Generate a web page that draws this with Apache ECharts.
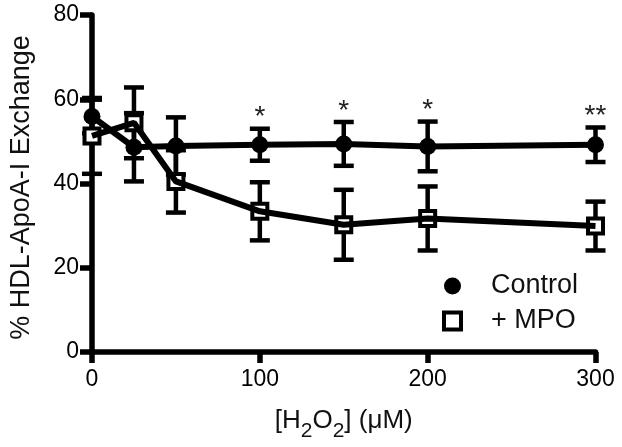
<!DOCTYPE html>
<html>
<head>
<meta charset="utf-8">
<script src="https://cdn.jsdelivr.net/npm/echarts@6/dist/echarts.min.js"></script>
<style>html,body{margin:0;padding:0;background:#fff}#c{width:622px;height:447px}</style>
</head>
<body>
<div id="c"></div>
<script>
const xValues = [0, 25, 50, 100, 150, 200, 300];
const controlMean = [55.9, 48.6, 48.9, 49.2, 49.4, 48.8, 49.2];
const controlSem = [4.0, 8.1, 6.8, 3.8, 5.2, 5.9, 4.1];
const mpoMean = [51.3, 54.4, 40.5, 33.4, 30.2, 31.7, 29.9];
const mpoSem = [9.0, 8.4, 7.4, 6.9, 8.3, 7.6, 5.8];
const sigMarks = ['', '', '', '*', '*', '*', '**'];
const seriesNames = ['Control', '+ MPO'];
const yTitle = '% HDL-ApoA-I Exchange';
const xTitle = '[H{sub|2}O{sub|2}] (\u03bcM)';

const FONT = 'Liberation Sans, Arial, Helvetica, sans-serif';
const INK = '#000';

function errData(mean, sem) {
  return xValues.map((x, i) => [x, mean[i] - sem[i], mean[i] + sem[i]]);
}
function errRender(params, api) {
  const x = api.value(0);
  const lo = api.coord([x, api.value(1)]);
  const hi = api.coord([x, api.value(2)]);
  const h = 10;
  const st = { stroke: INK, lineWidth: 4.5, fill: null };
  return {
    type: 'group',
    children: [
      { type: 'line', shape: { x1: lo[0], y1: lo[1], x2: hi[0], y2: hi[1] }, style: st },
      { type: 'line', shape: { x1: lo[0] - h, y1: lo[1], x2: lo[0] + h, y2: lo[1] }, style: st },
      { type: 'line', shape: { x1: hi[0] - h, y1: hi[1], x2: hi[0] + h, y2: hi[1] }, style: st }
    ]
  };
}

const chart = echarts.init(document.getElementById('c'), null, { renderer: 'canvas' });
chart.setOption({
  animation: false,
  backgroundColor: '#fff',
  textStyle: { fontFamily: FONT },
  grid: { left: 90, right: 26.5, top: 15, bottom: 95, containLabel: false },
  xAxis: {
    type: 'value', min: 0, max: 300, interval: 100,
    splitLine: { show: false },
    axisLine: { lineStyle: { color: INK, width: 5.5 } },
    axisTick: { length: 11, lineStyle: { color: INK, width: 5.5 } },
    axisLabel: { color: INK, fontSize: 23, fontFamily: FONT, margin: 16 },
    name: xTitle, nameLocation: 'middle', nameGap: 47,
    nameTextStyle: {
      color: '#111', fontSize: 26, fontFamily: FONT,
      rich: { sub: { fontSize: 21, verticalAlign: 'bottom', padding: [22, 0, 0, 0], fontFamily: FONT, color: '#111' } }
    }
  },
  yAxis: {
    type: 'value', min: 0, max: 80, interval: 20,
    splitLine: { show: false },
    axisLine: { lineStyle: { color: INK, width: 5.5 } },
    axisTick: { length: 12, lineStyle: { color: INK, width: 5.5 } },
    axisLabel: { color: INK, fontSize: 23, fontFamily: FONT, margin: 13 },
    name: yTitle, nameLocation: 'middle', nameGap: 57, nameRotate: 90,
    nameTextStyle: { color: '#111', fontSize: 27, fontFamily: FONT, padding: [0, 8, 0, 0] }
  },
  legend: {
    orient: 'vertical', left: 437, top: 267,
    itemWidth: 17, itemHeight: 17, itemGap: 7,
    textStyle: { color: '#111', fontSize: 27, lineHeight: 28, fontFamily: FONT, padding: [0, 0, 0, 25] },
    data: [
      { name: seriesNames[0], icon: 'circle', itemStyle: { color: INK, borderWidth: 0 } },
      { name: seriesNames[1], icon: 'rect', itemStyle: { color: '#fff', borderColor: INK, borderWidth: 4 } }
    ]
  },
  series: [
    { type: 'custom', name: 'errC', z: 1, renderItem: errRender, data: errData(controlMean, controlSem), encode: { x: 0, y: [1, 2] }, silent: true },
    { type: 'custom', name: 'errM', z: 1, renderItem: errRender, data: errData(mpoMean, mpoSem), encode: { x: 0, y: [1, 2] }, silent: true },
    {
      type: 'scatter', name: seriesNames[1], z: 2, symbol: 'rect', symbolSize: 15,
      itemStyle: { color: '#fff', borderColor: INK, borderWidth: 4, opacity: 1 },
      data: xValues.map((x, i) => [x, mpoMean[i]])
    },
    {
      type: 'line', name: 'mpoLine', z: 3, showSymbol: false, symbol: 'none',
      lineStyle: { color: INK, width: 6 },
      data: xValues.map((x, i) => [x, mpoMean[i]])
    },
    {
      type: 'line', name: 'ctrlLine', z: 3, showSymbol: false, symbol: 'none',
      lineStyle: { color: INK, width: 6 },
      data: xValues.map((x, i) => [x, controlMean[i]])
    },
    {
      type: 'scatter', name: seriesNames[0], z: 4, symbol: 'circle', symbolSize: 17,
      itemStyle: { color: INK, opacity: 1 },
      data: xValues.map((x, i) => [x, controlMean[i]])
    },
    {
      type: 'custom', name: 'sig', z: 5, silent: true,
      data: xValues.map((x, i) => [x, controlMean[i] + controlSem[i], sigMarks[i]]),
      encode: { x: 0, y: 1 },
      renderItem: function (params, api) {
        const i = params.dataIndex;
        const p = api.coord([api.value(0), api.value(1)]);
        return {
          type: 'text', x: p[0], y: p[1] - 11,
          style: { text: sigMarks[i], fontSize: 28, fontFamily: FONT, fill: '#222', align: 'center', verticalAlign: 'middle' }
        };
      }
    }
  ]
});
</script>
</body>
</html>
